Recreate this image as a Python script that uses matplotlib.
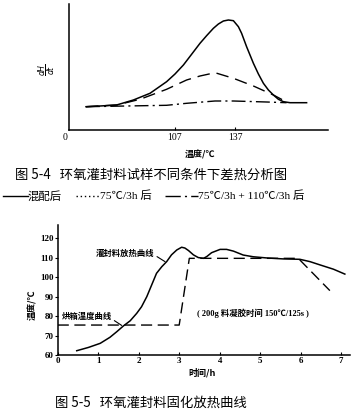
import matplotlib
matplotlib.use("Agg")
import matplotlib.pyplot as plt
from matplotlib.lines import Line2D

plt.rcParams['font.family'] = ['Noto Sans CJK SC', 'DejaVu Sans']

# ---------------- Figure 5-4 data (DTA curves, arbitrary dH/dt units) ----------------
dta_ticks = [107, 137]
dta_tick_labels = ['107', '137']
mixed_T = [62.5, 69.5, 77.8, 86.2, 94.5, 102.8, 107.0, 111.2, 115.3, 119.5, 122.8, 126.2,
           128.7, 131.2, 133.7, 136.2, 138.7, 140.3, 142.8, 146.2, 148.7, 151.2, 153.7,
           156.2, 158.7, 161.2, 164.5, 172.8]
mixed_H = [23.3, 24.0, 25.0, 30.0, 36.7, 48.3, 56.0, 65.0, 75.7, 86.7, 94.3, 101.7,
           106.0, 109.0, 110.0, 109.3, 103.3, 96.7, 83.3, 66.7, 56.0, 46.7, 40.0,
           35.0, 30.7, 28.3, 27.3, 27.3]
c75_T = [62.5, 77.8, 89.5, 102.8, 112.8, 119.5, 127.0, 136.2, 146.2, 156.2, 162.8]
c75_H = [23.3, 25.0, 30.7, 40.7, 50.0, 54.0, 57.3, 51.7, 44.0, 35.0, 28.0]
c110_T = [62.5, 102.8, 112.8, 127.0, 136.2, 152.8, 162.8]
c110_H = [23.3, 24.7, 26.7, 29.0, 29.0, 28.0, 27.3]

# ---------------- Figure 5-5 data ----------------
time_ticks = [0, 1, 2, 3, 4, 5, 6, 7]
temp_ticks = [60, 70, 80, 90, 100, 110, 120]
exo_t = [0.47, 0.76, 1.05, 1.29, 1.46, 1.62, 1.79, 1.95, 2.07, 2.20, 2.32, 2.44, 2.57,
         2.69, 2.81, 2.94, 3.06, 3.14, 3.23, 3.35, 3.47, 3.60, 3.68, 3.80, 4.01, 4.17,
         4.34, 4.58, 4.83, 5.16, 5.57, 5.98, 6.23, 6.48, 6.81, 7.09]
exo_T = [62.2, 63.9, 66.0, 69.1, 72.0, 74.9, 77.6, 81.4, 84.8, 90.0, 96.0, 102.0, 105.4,
         108.0, 111.5, 114.0, 115.4, 115.0, 113.7, 111.5, 110.1, 109.7, 110.6, 112.6, 114.3, 114.3,
         113.4, 111.4, 110.5, 109.9, 109.4, 109.2, 108.0, 106.3, 104.1, 101.6]
oven_t = [0.0, 3.0, 3.25, 5.94, 6.72]
oven_T = [75.4, 75.4, 109.7, 109.7, 93.1]

W, H = 362, 417
fig = plt.figure(figsize=(W / 100, H / 100), dpi=100)
fig.patch.set_facecolor('white')

def fx(px):
    return px / W

def fy(py):
    return 1 - py / H

num_font = {'family': ['Liberation Serif', 'DejaVu Serif']}

# ---------------- Axes 1 ----------------
ax1 = fig.add_axes([fx(69), fy(130), fx(328) - fx(69), fy(4) - fy(130)])
ax1.plot(mixed_T, mixed_H, color='black', lw=1.1, solid_joinstyle='round')
ax1.plot(c75_T, c75_H, color='black', lw=1.0, dashes=(9, 5))
ax1.plot(c110_T, c110_H, color='black', lw=1.0, dashes=(10, 3, 1.5, 3))
ax1.set_xlim(54, 183.5)
ax1.set_ylim(0, 126)
for s in ['top', 'right']:
    ax1.spines[s].set_visible(False)
ax1.spines['left'].set_linewidth(1.1)
ax1.spines['bottom'].set_linewidth(1.1)
ax1.set_yticks([])
ax1.set_xticks(dta_ticks)
ax1.set_xticklabels(dta_tick_labels, fontsize=7, **num_font)
ax1.tick_params(axis='x', direction='in', length=2, pad=2, width=0.8)
ax1.text(-0.005, -0.02, '0', transform=ax1.transAxes, ha='right', va='top', fontsize=7, **num_font)
fig.text(fx(47), fy(70), r'$\frac{dH}{dt}$', rotation=90, ha='center', va='center', fontsize=8)
fig.text(fx(200), fy(155), '温度/℃', ha='center', va='center', fontsize=6.5, fontweight='bold')
fig.text(fx(15), fy(175), '图 5-4   环氧灌封料试样不同条件下差热分析图', ha='left', va='center', fontsize=9.6)

# legend row
ly = fy(196)
fig.add_artist(Line2D([fx(3), fx(28)], [ly, ly], color='black', lw=1.0))
fig.text(fx(28), ly, '混配后', ha='left', va='center', fontsize=8.2)
fig.add_artist(Line2D([fx(76), fx(100)], [ly, ly], color='black', lw=1.0, dashes=(1, 2)))
fig.text(fx(100), ly, '75℃/3h 后', ha='left', va='center', fontsize=8.2,
         family=['Liberation Serif', 'Noto Sans CJK SC'])
fig.add_artist(Line2D([fx(165), fx(198)], [ly, ly], color='black', lw=1.0, dashes=(11, 3, 1.5, 3)))
fig.text(fx(198), ly, '75℃/3h + 110℃/3h 后', ha='left', va='center', fontsize=8.2,
         family=['Liberation Serif', 'Noto Sans CJK SC'])

# ---------------- Axes 2 ----------------
x0, xs = 57.7, 40.5
xmax = (350 - x0) / xs
y0, ys = 355, 1.945
ymax = 60 + (y0 - 225) / ys
ax2 = fig.add_axes([fx(x0), fy(355), fx(350) - fx(x0), fy(225) - fy(355)])
ax2.plot(exo_t, exo_T, color='black', lw=1.1, solid_joinstyle='round')
ax2.plot(oven_t, oven_T, color='black', lw=1.0, dashes=(8, 4))
ax2.set_xlim(0, xmax)
ax2.set_ylim(60, ymax)
for s in ['top', 'right']:
    ax2.spines[s].set_visible(False)
ax2.spines['left'].set_linewidth(1.1)
ax2.spines['bottom'].set_linewidth(1.1)
ax2.set_xticks(time_ticks)
ax2.set_xticklabels([str(t) for t in time_ticks], fontsize=6.5, fontweight='bold', **num_font)
ax2.set_yticks(temp_ticks)
ax2.set_yticklabels([str(t) for t in temp_ticks], fontsize=6.5, fontweight='bold', **num_font)
ax2.tick_params(axis='x', direction='in', length=2.5, pad=1.5, width=0.8)
ax2.tick_params(axis='y', direction='out', length=2, pad=1, width=0.8)

ax2.annotate('灌封料放热曲线', xy=(2.65, 108), xytext=(1.66, 112.4), ha='center', va='center',
             fontsize=6, fontweight='bold',
             arrowprops=dict(arrowstyle='-', color='black', lw=0.8, shrinkA=0, shrinkB=0,
                             relpos=(1.0, 0.3)))
ax2.annotate('烘箱温度曲线', xy=(1.58, 75.2), xytext=(0.71, 80.0), ha='center', va='center',
             fontsize=6, fontweight='bold',
             arrowprops=dict(arrowstyle='-', color='black', lw=0.8, shrinkA=0, shrinkB=0,
                             relpos=(1.0, 0.2)))
ax2.text(4.82, 81.6, '( 200g 料凝胶时间 150℃/125s )', ha='center', va='center',
         fontsize=6, fontweight='bold', family=['Liberation Serif', 'Noto Sans CJK SC'])

fig.text(fx(33), fy(305), '温度/℃', rotation=90, ha='center', va='center', fontsize=6.5, fontweight='bold')
fig.text(fx(202), fy(373), '时间/h', ha='center', va='center', fontsize=6.5, fontweight='bold')
fig.text(fx(55), fy(403), '图 5-5   环氧灌封料固化放热曲线', ha='left', va='center', fontsize=9.6)

fig.savefig('out.png', dpi=100, facecolor='white')
